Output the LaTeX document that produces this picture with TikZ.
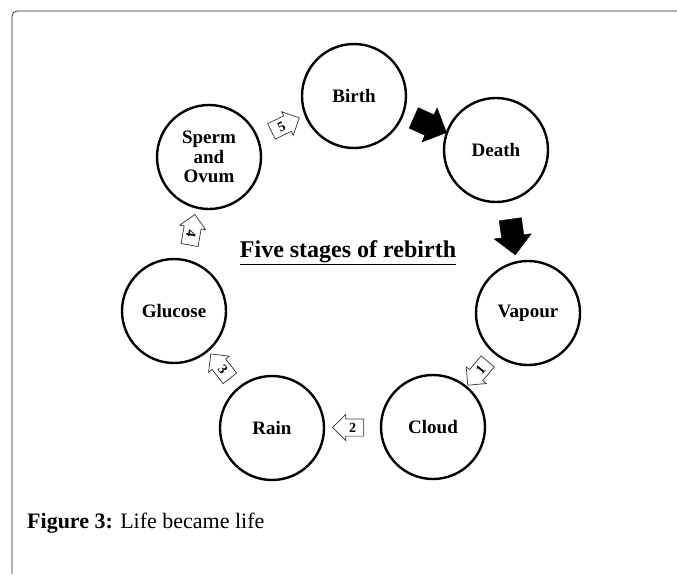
\documentclass[tikz,border=0pt]{standalone}
\usepackage{fontspec}
\setmainfont{Liberation Serif}
\usetikzlibrary{shapes.arrows,calc}
\begin{document}
\begin{tikzpicture}[x=1pt,y=1pt,
  stage/.style={circle, draw=black, line width=2.4pt, minimum size=104pt, inner sep=0pt, align=center, font=\fontsize{19}{19.5}\selectfont\bfseries},
  blk/.style={single arrow, fill=black, draw=black, minimum height=36pt, text height=0pt, text depth=0pt, inner xsep=0pt, inner ysep=11pt, single arrow head extend=7.5pt},
  wht/.style={single arrow, draw=black!80, line width=0.7pt, fill=white, minimum height=31pt, text height=9.5pt, text depth=0pt, inner xsep=1pt, inner ysep=3.5pt, single arrow head extend=4.5pt, font=\fontsize{14}{14}\selectfont\bfseries},
  lft/.style={shape border rotate=180},
]
\useasboundingbox (0,0) rectangle (677,-574);
\draw[rounded corners=5pt, line width=0.8pt, draw=black!85] (12,-574) -- (12,-11) -- (677,-11);

\node[stage] (birth) at (354,-96) {Birth};
\node[stage] (death) at (496,-150) {Death};
\node[stage] (vapour) at (528,-313) {Vapour};
\node[stage] (cloud) at (433,-427) {Cloud};
\node[stage] (rain) at (272,-428) {Rain};
\node[stage] (glucose) at (174,-311) {Glucose};
\node[stage] (sperm) at (209,-157) {Sperm\\and\\Ovum};

\node[blk, rotate=-24] (a1) at ($(birth)!0.5!(death)$) {};
\node[blk, rotate=-82] (a2) at ($(death)!0.5!(vapour)$) {};
\node[wht, lft, rotate=50] (w1) at ($(vapour)!0.5!(cloud)$) {1};
\node[wht, lft] (w2) at ($(cloud)!0.5!(rain)$) {2};
\node[wht, lft, rotate=-52] (w3) at ($(rain)!0.5!(glucose)$) {3};
\node[wht, lft, rotate=-100] (w4) at ($(glucose)!0.5!(sperm)$) {4};
\node[wht, rotate=26] (w5) at ($(sperm)!0.5!(birth)$) {5};

\node[font=\fontsize{24}{27}\selectfont\bfseries] (title) at (348,-253) {\underline{Five stages of rebirth}};
\node[anchor=base west, font=\fontsize{22}{25}\selectfont, inner sep=0pt] (cap) at (27,-528) {\textbf{Figure 3:} Life became life};
\end{tikzpicture}
\end{document}
